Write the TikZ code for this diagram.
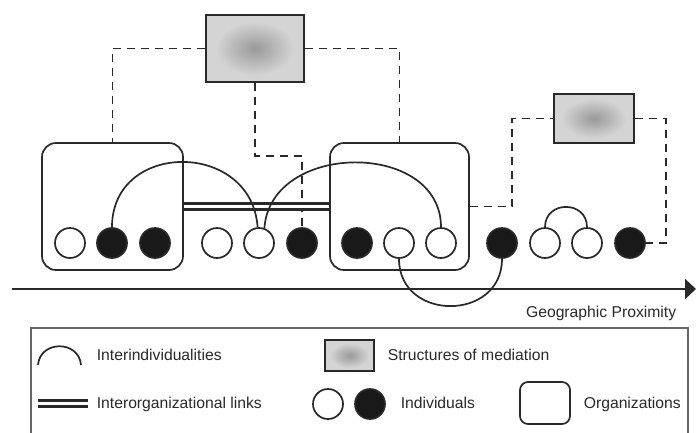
\documentclass[tikz,border=0pt]{standalone}
\usepackage{fontspec}
\setmainfont{Liberation Sans}
\usetikzlibrary{arrows.meta}
\definecolor{ink}{gray}{0.16}
\definecolor{medin}{gray}{0.6}
\definecolor{medout}{gray}{0.83}
\definecolor{solid}{gray}{0.1}
\definecolor{frame}{gray}{0.4}
\pgfdeclareradialshading{medshade}{\pgfpoint{0bp}{0bp}}{color(0bp)=(medin); color(20bp)=(medout); color(50bp)=(medout)}

\begin{document}
\begin{tikzpicture}[x=1pt,y=-1pt,line width=1.7pt,color=ink]
          \tikzstyle{org}=[draw, rounded corners=14pt, minimum width=141pt, minimum height=127pt]
          \tikzstyle{med}=[draw, shading=medshade]
          \tikzstyle{person}=[draw, circle, minimum size=30pt, inner sep=0pt, fill=white]
          \tikzstyle{dark}=[person, fill=solid]
          \tikzstyle{tie}=[line width=1.8pt, dash pattern=on 8pt off 6pt]
          \tikzstyle{orglink}=[double=white, double distance=3pt, line width=3pt]
          \tikzstyle{legtext}=[font=\fontsize{15.7}{18}\selectfont, inner sep=0pt]
          \useasboundingbox (0,0) rectangle (696,432);
          % organizations and mediation structures
          \node[org] (orgA) at (112.5,206.5) {};
          \node[org, minimum width=139pt] (orgB) at (399.5,206.5) {};
          \node[med, minimum width=98pt, minimum height=67pt] (med1) at (255,48.5) {};
          \node[med, minimum width=80pt, minimum height=49pt] (med2) at (594,118.5) {};
          % individuals
          \foreach \x/\s [count=\i] in {70/person,112/dark,155/dark,217/person,259/person,302/dark,357/dark,399/person,441/person,502/dark,545/person,587/person,630/dark}
              \node[\s] (p\i) at (\x,243) {};
          % mediation ties
          \draw[tie] (med1.west) -| (orgA.north);
          \draw[tie] (med1.east) -| (orgB.north);
          \draw[tie] (med1.south) -- ++(0,73) -| (p6.north);
          \draw[tie] (orgB.east) -- ++(42,0) |- (med2.west);
          \draw[tie] (med2.east) -- ++(31,0) |- (p13.east);
          \draw[orglink] (orgA.east) -- (orgB.west);
          % interindividualities
          \draw (p2.north) .. controls +(0,-87) and +(-6,-87) .. (p5.95);
          \draw (p5.70) .. controls +(6,-87) and +(0,-87) .. (p9.north);
          \draw (p8.south) .. controls +(0,63) and +(0,63) .. (p10.south);
          \draw (p11.north) .. controls +(0,-27) and +(0,-27) .. (p12.north);
          % axis
          \coordinate (ax0) at (12,289);
          \coordinate (ax1) at (696,289);
          \draw[line width=2.4pt, -{Triangle[length=11pt,width=20pt]}] (ax0) -- (ax1);
          \node[legtext, anchor=base east] (geo) at (677,317) {Geographic Proximity};
          % legend
          \draw[frame, line width=1.2pt] (31,328) rectangle (688,440);
          \coordinate (k0) at (38,365);
          \coordinate (k1) at (81,365);
          \draw (k0) .. controls +(2,-25) and +(-2,-25) .. (k1);
          \node[legtext, anchor=base west] (t1) at (96,360) {Interindividualities};
          \coordinate (k2) at (38,403);
          \coordinate (k3) at (88,403);
          \draw[orglink] (k2) -- (k3);
          \node[legtext, anchor=base west] (t2) at (96,408) {Interorganizational links};
          \node[med, minimum width=49pt, minimum height=31pt] (kmed) at (349.5,355.5) {};
          \node[legtext, anchor=base west] (t3) at (387,360) {Structures of mediation};
          \node[person] (kw) at (328,404) {};
          \node[dark] (kb) at (370,404) {};
          \node[legtext, anchor=base west] (t4) at (400,408) {Individuals};
          \node[org, minimum width=50pt, minimum height=42pt, rounded corners=8pt] (korg) at (545,403) {};
          \node[legtext, anchor=base west] (t5) at (583,408) {Organizations};
      \end{tikzpicture}
\end{document}
